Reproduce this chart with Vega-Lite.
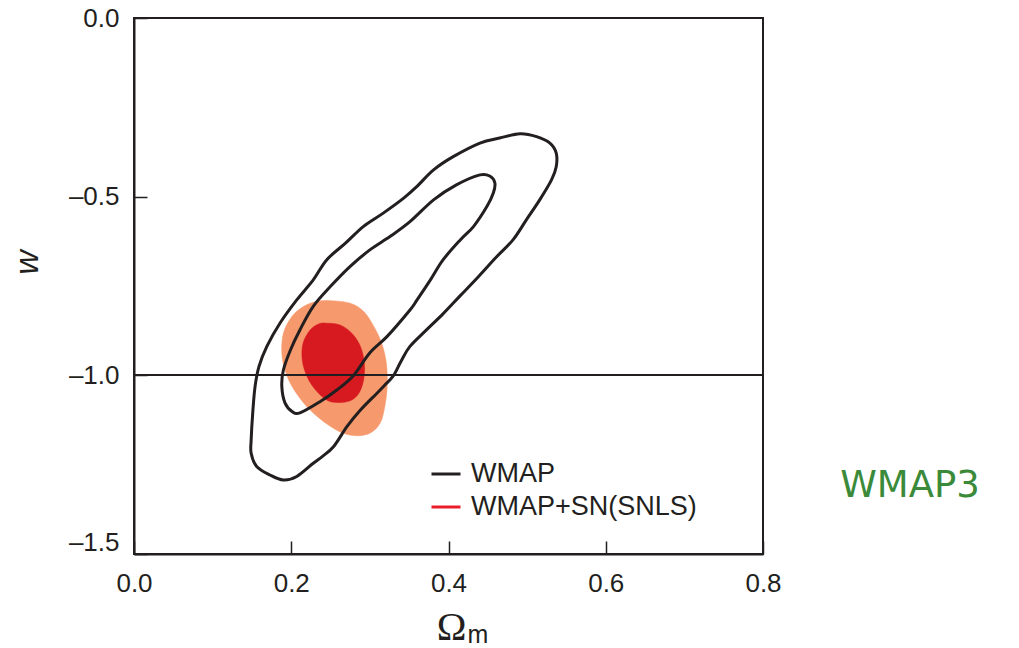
{
  "$schema": "https://vega.github.io/schema/vega-lite/v6.json",
  "width": 629,
  "height": 536,
  "autosize": {"type": "none"},
  "padding": {"left": 134, "top": 18, "right": 256, "bottom": 94},
  "background": "white",
  "config": {
    "view": {"stroke": "#231f20", "strokeWidth": 2},
    "axis": {
      "grid": false,
      "domainColor": "#231f20",
      "domainWidth": 2,
      "tickColor": "#231f20",
      "tickWidth": 1.5,
      "tickSize": -13,
      "labelFont": "Liberation Sans",
      "labelFontSize": 26,
      "labelColor": "#231f20",
      "labelFlush": false,
      "labelOverlap": false,
      "titleColor": "#231f20"
    }
  },
  "title": {
    "text": "WMAP3",
    "orient": "top",
    "anchor": "start",
    "frame": "group",
    "align": "center",
    "baseline": "alphabetic",
    "offset": 0,
    "dx": 776,
    "dy": 529,
    "font": "DejaVu Sans",
    "fontSize": 37,
    "fontWeight": "normal",
    "color": "#3b8a3a"
  },
  "data": {
    "values": [
      {"set": "WMAP", "cl": 95, "i": 0, "om": 0.491, "w": -0.324},
      {"set": "WMAP", "cl": 95, "i": 1, "om": 0.512, "w": -0.332},
      {"set": "WMAP", "cl": 95, "i": 2, "om": 0.529, "w": -0.350},
      {"set": "WMAP", "cl": 95, "i": 3, "om": 0.537, "w": -0.378},
      {"set": "WMAP", "cl": 95, "i": 4, "om": 0.537, "w": -0.416},
      {"set": "WMAP", "cl": 95, "i": 5, "om": 0.531, "w": -0.453},
      {"set": "WMAP", "cl": 95, "i": 6, "om": 0.516, "w": -0.509},
      {"set": "WMAP", "cl": 95, "i": 7, "om": 0.499, "w": -0.565},
      {"set": "WMAP", "cl": 95, "i": 8, "om": 0.482, "w": -0.621},
      {"set": "WMAP", "cl": 95, "i": 9, "om": 0.460, "w": -0.671},
      {"set": "WMAP", "cl": 95, "i": 10, "om": 0.438, "w": -0.724},
      {"set": "WMAP", "cl": 95, "i": 11, "om": 0.415, "w": -0.777},
      {"set": "WMAP", "cl": 95, "i": 12, "om": 0.393, "w": -0.828},
      {"set": "WMAP", "cl": 95, "i": 13, "om": 0.371, "w": -0.875},
      {"set": "WMAP", "cl": 95, "i": 14, "om": 0.351, "w": -0.919},
      {"set": "WMAP", "cl": 95, "i": 15, "om": 0.340, "w": -0.959},
      {"set": "WMAP", "cl": 95, "i": 16, "om": 0.330, "w": -1.001},
      {"set": "WMAP", "cl": 95, "i": 17, "om": 0.319, "w": -1.027},
      {"set": "WMAP", "cl": 95, "i": 18, "om": 0.309, "w": -1.050},
      {"set": "WMAP", "cl": 95, "i": 19, "om": 0.288, "w": -1.097},
      {"set": "WMAP", "cl": 95, "i": 20, "om": 0.271, "w": -1.143},
      {"set": "WMAP", "cl": 95, "i": 21, "om": 0.254, "w": -1.199},
      {"set": "WMAP", "cl": 95, "i": 22, "om": 0.239, "w": -1.228},
      {"set": "WMAP", "cl": 95, "i": 23, "om": 0.228, "w": -1.246},
      {"set": "WMAP", "cl": 95, "i": 24, "om": 0.207, "w": -1.283},
      {"set": "WMAP", "cl": 95, "i": 25, "om": 0.190, "w": -1.293},
      {"set": "WMAP", "cl": 95, "i": 26, "om": 0.173, "w": -1.279},
      {"set": "WMAP", "cl": 95, "i": 27, "om": 0.156, "w": -1.255},
      {"set": "WMAP", "cl": 95, "i": 28, "om": 0.149, "w": -1.218},
      {"set": "WMAP", "cl": 95, "i": 29, "om": 0.149, "w": -1.181},
      {"set": "WMAP", "cl": 95, "i": 30, "om": 0.151, "w": -1.105},
      {"set": "WMAP", "cl": 95, "i": 31, "om": 0.154, "w": -1.031},
      {"set": "WMAP", "cl": 95, "i": 32, "om": 0.159, "w": -0.975},
      {"set": "WMAP", "cl": 95, "i": 33, "om": 0.169, "w": -0.919},
      {"set": "WMAP", "cl": 95, "i": 34, "om": 0.186, "w": -0.853},
      {"set": "WMAP", "cl": 95, "i": 35, "om": 0.207, "w": -0.789},
      {"set": "WMAP", "cl": 95, "i": 36, "om": 0.228, "w": -0.733},
      {"set": "WMAP", "cl": 95, "i": 37, "om": 0.245, "w": -0.677},
      {"set": "WMAP", "cl": 95, "i": 38, "om": 0.269, "w": -0.630},
      {"set": "WMAP", "cl": 95, "i": 39, "om": 0.292, "w": -0.583},
      {"set": "WMAP", "cl": 95, "i": 40, "om": 0.317, "w": -0.546},
      {"set": "WMAP", "cl": 95, "i": 41, "om": 0.343, "w": -0.504},
      {"set": "WMAP", "cl": 95, "i": 42, "om": 0.360, "w": -0.471},
      {"set": "WMAP", "cl": 95, "i": 43, "om": 0.381, "w": -0.425},
      {"set": "WMAP", "cl": 95, "i": 44, "om": 0.406, "w": -0.388},
      {"set": "WMAP", "cl": 95, "i": 45, "om": 0.440, "w": -0.350},
      {"set": "WMAP", "cl": 95, "i": 46, "om": 0.465, "w": -0.336},

      {"set": "WMAP", "cl": 68, "i": 0, "om": 0.440, "w": -0.439},
      {"set": "WMAP", "cl": 68, "i": 1, "om": 0.453, "w": -0.443},
      {"set": "WMAP", "cl": 68, "i": 2, "om": 0.459, "w": -0.462},
      {"set": "WMAP", "cl": 68, "i": 3, "om": 0.457, "w": -0.490},
      {"set": "WMAP", "cl": 68, "i": 4, "om": 0.449, "w": -0.527},
      {"set": "WMAP", "cl": 68, "i": 5, "om": 0.432, "w": -0.583},
      {"set": "WMAP", "cl": 68, "i": 6, "om": 0.415, "w": -0.621},
      {"set": "WMAP", "cl": 68, "i": 7, "om": 0.393, "w": -0.677},
      {"set": "WMAP", "cl": 68, "i": 8, "om": 0.377, "w": -0.733},
      {"set": "WMAP", "cl": 68, "i": 9, "om": 0.360, "w": -0.789},
      {"set": "WMAP", "cl": 68, "i": 10, "om": 0.351, "w": -0.817},
      {"set": "WMAP", "cl": 68, "i": 11, "om": 0.322, "w": -0.891},
      {"set": "WMAP", "cl": 68, "i": 12, "om": 0.300, "w": -0.937},
      {"set": "WMAP", "cl": 68, "i": 13, "om": 0.279, "w": -1.001},
      {"set": "WMAP", "cl": 68, "i": 14, "om": 0.258, "w": -1.041},
      {"set": "WMAP", "cl": 68, "i": 15, "om": 0.237, "w": -1.073},
      {"set": "WMAP", "cl": 68, "i": 16, "om": 0.211, "w": -1.105},
      {"set": "WMAP", "cl": 68, "i": 17, "om": 0.201, "w": -1.101},
      {"set": "WMAP", "cl": 68, "i": 18, "om": 0.192, "w": -1.077},
      {"set": "WMAP", "cl": 68, "i": 19, "om": 0.188, "w": -1.031},
      {"set": "WMAP", "cl": 68, "i": 20, "om": 0.190, "w": -0.985},
      {"set": "WMAP", "cl": 68, "i": 21, "om": 0.199, "w": -0.929},
      {"set": "WMAP", "cl": 68, "i": 22, "om": 0.211, "w": -0.873},
      {"set": "WMAP", "cl": 68, "i": 23, "om": 0.228, "w": -0.807},
      {"set": "WMAP", "cl": 68, "i": 24, "om": 0.250, "w": -0.751},
      {"set": "WMAP", "cl": 68, "i": 25, "om": 0.275, "w": -0.695},
      {"set": "WMAP", "cl": 68, "i": 26, "om": 0.300, "w": -0.649},
      {"set": "WMAP", "cl": 68, "i": 27, "om": 0.326, "w": -0.611},
      {"set": "WMAP", "cl": 68, "i": 28, "om": 0.351, "w": -0.570},
      {"set": "WMAP", "cl": 68, "i": 29, "om": 0.381, "w": -0.509},
      {"set": "WMAP", "cl": 68, "i": 30, "om": 0.410, "w": -0.467},

      {"set": "WMAP+SN(SNLS)", "cl": 95, "i": 0, "om": 0.250, "w": -0.791},
      {"set": "WMAP+SN(SNLS)", "cl": 95, "i": 1, "om": 0.275, "w": -0.798},
      {"set": "WMAP+SN(SNLS)", "cl": 95, "i": 2, "om": 0.292, "w": -0.821},
      {"set": "WMAP+SN(SNLS)", "cl": 95, "i": 3, "om": 0.305, "w": -0.863},
      {"set": "WMAP+SN(SNLS)", "cl": 95, "i": 4, "om": 0.315, "w": -0.910},
      {"set": "WMAP+SN(SNLS)", "cl": 95, "i": 5, "om": 0.321, "w": -0.966},
      {"set": "WMAP+SN(SNLS)", "cl": 95, "i": 6, "om": 0.322, "w": -1.031},
      {"set": "WMAP+SN(SNLS)", "cl": 95, "i": 7, "om": 0.319, "w": -1.087},
      {"set": "WMAP+SN(SNLS)", "cl": 95, "i": 8, "om": 0.313, "w": -1.134},
      {"set": "WMAP+SN(SNLS)", "cl": 95, "i": 9, "om": 0.300, "w": -1.162},
      {"set": "WMAP+SN(SNLS)", "cl": 95, "i": 10, "om": 0.283, "w": -1.169},
      {"set": "WMAP+SN(SNLS)", "cl": 95, "i": 11, "om": 0.266, "w": -1.162},
      {"set": "WMAP+SN(SNLS)", "cl": 95, "i": 12, "om": 0.250, "w": -1.143},
      {"set": "WMAP+SN(SNLS)", "cl": 95, "i": 13, "om": 0.233, "w": -1.115},
      {"set": "WMAP+SN(SNLS)", "cl": 95, "i": 14, "om": 0.216, "w": -1.078},
      {"set": "WMAP+SN(SNLS)", "cl": 95, "i": 15, "om": 0.201, "w": -1.031},
      {"set": "WMAP+SN(SNLS)", "cl": 95, "i": 16, "om": 0.192, "w": -0.985},
      {"set": "WMAP+SN(SNLS)", "cl": 95, "i": 17, "om": 0.188, "w": -0.938},
      {"set": "WMAP+SN(SNLS)", "cl": 95, "i": 18, "om": 0.190, "w": -0.882},
      {"set": "WMAP+SN(SNLS)", "cl": 95, "i": 19, "om": 0.201, "w": -0.835},
      {"set": "WMAP+SN(SNLS)", "cl": 95, "i": 20, "om": 0.216, "w": -0.807},
      {"set": "WMAP+SN(SNLS)", "cl": 95, "i": 21, "om": 0.233, "w": -0.793},

      {"set": "WMAP+SN(SNLS)", "cl": 68, "i": 0, "om": 0.245, "w": -0.854},
      {"set": "WMAP+SN(SNLS)", "cl": 68, "i": 1, "om": 0.262, "w": -0.859},
      {"set": "WMAP+SN(SNLS)", "cl": 68, "i": 2, "om": 0.277, "w": -0.882},
      {"set": "WMAP+SN(SNLS)", "cl": 68, "i": 3, "om": 0.288, "w": -0.919},
      {"set": "WMAP+SN(SNLS)", "cl": 68, "i": 4, "om": 0.293, "w": -0.966},
      {"set": "WMAP+SN(SNLS)", "cl": 68, "i": 5, "om": 0.292, "w": -1.013},
      {"set": "WMAP+SN(SNLS)", "cl": 68, "i": 6, "om": 0.286, "w": -1.050},
      {"set": "WMAP+SN(SNLS)", "cl": 68, "i": 7, "om": 0.275, "w": -1.071},
      {"set": "WMAP+SN(SNLS)", "cl": 68, "i": 8, "om": 0.258, "w": -1.076},
      {"set": "WMAP+SN(SNLS)", "cl": 68, "i": 9, "om": 0.245, "w": -1.069},
      {"set": "WMAP+SN(SNLS)", "cl": 68, "i": 10, "om": 0.231, "w": -1.041},
      {"set": "WMAP+SN(SNLS)", "cl": 68, "i": 11, "om": 0.220, "w": -1.003},
      {"set": "WMAP+SN(SNLS)", "cl": 68, "i": 12, "om": 0.214, "w": -0.957},
      {"set": "WMAP+SN(SNLS)", "cl": 68, "i": 13, "om": 0.215, "w": -0.910},
      {"set": "WMAP+SN(SNLS)", "cl": 68, "i": 14, "om": 0.224, "w": -0.873},
      {"set": "WMAP+SN(SNLS)", "cl": 68, "i": 15, "om": 0.235, "w": -0.856}
    ]
  },
  "layer": [
    {
      "transform": [{"filter": "datum.set === 'WMAP+SN(SNLS)' && datum.cl === 95"}],
      "mark": {"type": "line", "interpolate": "cardinal-closed", "filled": true, "fill": "#f6996c", "stroke": "#f6996c", "strokeWidth": 0.5},
      "encoding": {
        "x": {
          "field": "om",
          "type": "quantitative",
          "scale": {"domain": [0, 0.8], "nice": false, "zero": false},
          "axis": {
            "orient": "bottom",
            "values": [0, 0.2, 0.4, 0.6, 0.8],
            "format": ".1f",
            "labelPadding": 29,
            "title": "Ω",
            "titleFont": "Liberation Serif",
            "titleFontSize": 40,
            "titleFontWeight": "normal",
            "titleX": 317,
            "titleY": 85,
            "titleAlign": "center",
            "titleBaseline": "alphabetic"
          }
        },
        "y": {
          "field": "w",
          "type": "quantitative",
          "scale": {"domain": [-1.5, 0], "nice": false, "zero": false},
          "axis": {
            "values": [-1.5, -1, -0.5, 0],
            "labelExpr": "datum.value < 0 ? '–' + format(-datum.value, '.1f') : format(datum.value, '.1f')",
            "labelPadding": 28,
            "labelOffset": {"condition": {"test": "datum.value === -1.5", "value": -12}, "value": 0},
            "title": "w",
            "titleFont": "Liberation Sans",
            "titleFontStyle": "italic",
            "titleFontWeight": "normal",
            "titleFontSize": 34,
            "titleAngle": -90,
            "titleX": -107,
            "titleY": 244,
            "titleAlign": "center",
            "titleBaseline": "middle"
          }
        },
        "order": {"field": "i", "type": "quantitative"}
      }
    },
    {
      "transform": [{"filter": "datum.set === 'WMAP+SN(SNLS)' && datum.cl === 68"}],
      "mark": {"type": "line", "interpolate": "cardinal-closed", "filled": true, "fill": "#d71920", "stroke": "#d71920", "strokeWidth": 0.5},
      "encoding": {
        "x": {
          "field": "om",
          "type": "quantitative",
          "axis": {
            "orient": "bottom",
            "domain": false,
            "ticks": false,
            "labels": false,
            "title": "m",
            "titleFont": "Liberation Sans",
            "titleFontSize": 25,
            "titleFontWeight": "normal",
            "titleX": 333,
            "titleY": 88,
            "titleAlign": "left",
            "titleBaseline": "alphabetic"
          }
        },
        "y": {"field": "w", "type": "quantitative"},
        "order": {"field": "i", "type": "quantitative"}
      }
    },
    {
      "mark": {"type": "rule", "color": "#231f20", "strokeWidth": 1.2},
      "encoding": {"y": {"datum": -1}}
    },
    {
      "transform": [{"filter": "datum.set === 'WMAP'"}],
      "mark": {"type": "line", "interpolate": "cardinal-closed", "strokeWidth": 3, "strokeJoin": "round"},
      "encoding": {
        "x": {"field": "om", "type": "quantitative", "axis": null},
        "y": {"field": "w", "type": "quantitative"},
        "detail": {"field": "cl"},
        "order": {"field": "i", "type": "quantitative"},
        "stroke": {
          "field": "set",
          "type": "nominal",
          "scale": {"domain": ["WMAP", "WMAP+SN(SNLS)"], "range": ["#231f20", "#ec1c2d"]},
          "legend": {
            "orient": "none",
            "legendX": 296,
            "legendY": 440,
            "title": null,
            "padding": 0,
            "symbolType": "stroke",
            "symbolSize": 841,
            "symbolStrokeWidth": 3,
            "labelFont": "Liberation Sans",
            "labelFontSize": 27,
            "labelColor": "#231f20",
            "labelLimit": 400,
            "labelOffset": 9,
            "rowPadding": 4
          }
        }
      }
    }
  ],
  "resolve": {"axis": {"x": "independent"}}
}
